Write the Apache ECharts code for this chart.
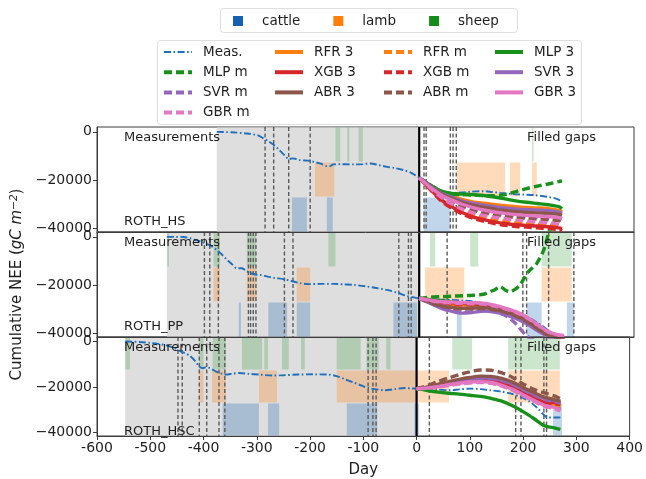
<!DOCTYPE html>
<html>
<head>
<meta charset="utf-8">
<script src="https://cdn.jsdelivr.net/npm/echarts@6/dist/echarts.min.js"></script>
<style>
html,body{margin:0;padding:0;background:#fff}
#chart{width:646px;height:479px}
</style>
</head>
<body>
<div id="chart"></div>
<script>
// ---------- axes ----------
const dayMin = -600, dayMax = 400, dayStep = 100;
const yMin = -41500, yMax = 2000;
const yTicks = [-40000, -20000, 0];

// grazing band limits on the NEE axis
const sheepBand = [-12500, yMax];
const lambBand = [-27000, -12500];
const cattleBand = [yMin, -27000];

// ---------- ROTH_HS ----------
const hsMeasDays = [-377,-350,-320,-300,-290,-280,-270,-262,-255,-248,-243,-236,-228,-222,-212,-203,-194,-184,-172,-166,-160,-145,-123,-105,-91,-75,-60,-45,-30,-15,0,10,20,33,45,64,80,95,120,135,151,176,195,213,238,252,263];
const hsMeas = [0,-200,-700,-1500,-2700,-4000,-5600,-7200,-8800,-10300,-11300,-11000,-11300,-11700,-11900,-12000,-12600,-13100,-14200,-14200,-13500,-13400,-13500,-13400,-13100,-13800,-14500,-15000,-15800,-17000,-19000,-20400,-21600,-23400,-24500,-25300,-25100,-24800,-24600,-24900,-25300,-25800,-26000,-26200,-26900,-27500,-28500];
const hsModelDays = [0,20,40,60,80,100,120,140,160,180,200,220,240,260,266];
const hsRFR3 = [-19000,-22300,-25000,-26600,-28000,-29000,-29600,-30100,-30600,-31000,-31300,-31500,-31800,-32600,-33200];
const hsRFRm = [-19000,-23400,-27400,-30300,-32600,-34300,-35500,-36300,-37000,-37600,-38000,-38300,-38600,-39200,-39600];
const hsMLP3 = [-19000,-22000,-24500,-25500,-25800,-26000,-26400,-27000,-27800,-28600,-29200,-29700,-30200,-31000,-31800];
const hsMLPm = [-19000,-22000,-24500,-25800,-26000,-26200,-26400,-26500,-26000,-24800,-23500,-22500,-21600,-20600,-20300];
const hsXGB3 = [-19000,-23600,-28000,-31000,-33400,-35200,-36400,-37300,-38000,-38500,-38800,-39000,-39300,-39800,-40100];
const hsXGBm = [-19000,-23800,-28400,-31600,-34000,-35800,-37000,-38000,-38700,-39200,-39500,-39800,-40100,-40600,-41000];
const hsSVR3 = [-19000,-22300,-25200,-27000,-28600,-29600,-30400,-31000,-31500,-31900,-32200,-32400,-32600,-33300,-33800];
const hsSVRm = [-19000,-22800,-26200,-28600,-30500,-32000,-33000,-33800,-34500,-35000,-35400,-35600,-35900,-36300,-36600];
const hsABR3 = [-19000,-22500,-25500,-27500,-29200,-30400,-31200,-32000,-32600,-33100,-33400,-33600,-33800,-34200,-34600];
const hsABRm = [-19000,-23000,-26500,-29000,-31000,-32600,-33600,-34400,-35000,-35500,-35900,-36200,-36400,-36800,-37200];
const hsGBR3 = [-19000,-22800,-26000,-28200,-30000,-31400,-32400,-33200,-33800,-34300,-34600,-34900,-35100,-35600,-36000];
const hsGBRm = [-19000,-23200,-27000,-29800,-32000,-33600,-34600,-35400,-36000,-36600,-37000,-37300,-37700,-38300,-38800];
const hsCattle = [[-237,-209],[-172,-161],[8,58]];
const hsLamb = [[-194,-158],[70,160],[169,188],[210,219]];
const hsSheep = [[-156,-147],[-134,-130],[-113,-105],[210,213]];
const hsEvents = [-287,-271,-243,-203,9,13,58,63,69];

// ---------- ROTH_PP ----------
const ppMeasDays = [-470,-455,-439,-425,-408,-398,-390,-377,-368,-358,-348,-340,-330,-321,-312,-302,-293,-284,-270,-253,-238,-222,-205,-184,-160,-140,-122,-100,-80,-60,-40,-23,-10,0,20,40,63,80,100,126,150,176,195,213,230,244,258,268];
const ppMeas = [0,0,-100,-700,-1900,-2700,-3500,-5400,-7200,-9500,-11500,-13000,-13000,-14300,-15200,-15700,-15900,-16400,-17000,-17500,-18300,-19200,-19600,-19500,-19500,-19700,-19900,-20500,-21200,-22000,-23200,-24500,-25100,-25500,-25800,-26000,-26100,-26400,-26800,-27800,-28900,-30800,-32400,-34600,-37000,-39300,-40600,-41300];
const ppModelDays = [0,20,40,60,80,100,120,140,160,180,200,220,240,260,270];
const ppMLPmDays = [0,20,40,60,80,100,120,132,140,151,160,169,180,188,201,210,219,232,241,250];
const ppMLPm = [-25500,-25000,-24800,-24600,-24400,-24200,-23800,-22700,-22000,-20700,-22000,-22700,-21500,-19900,-15100,-13000,-11000,-5400,1500,6000];
const ppRFR3 = [-25500,-26600,-27600,-28000,-28200,-28300,-28600,-29500,-30600,-32000,-34200,-37200,-40000,-41600,-42300];
const ppRFRm = [-25500,-26800,-27900,-28400,-28600,-28700,-29000,-29900,-31000,-32400,-34600,-37600,-40400,-42000,-42800];
const ppMLP3 = [-25500,-26000,-26500,-27000,-27500,-27800,-28300,-29200,-30300,-31800,-34000,-37000,-39800,-41500,-42500];
const ppXGB3 = [-25500,-26300,-27000,-27300,-27500,-27600,-27900,-28800,-30000,-31500,-33800,-36800,-39600,-41200,-42000];
const ppXGBm = [-25500,-26500,-27400,-27800,-28000,-28100,-28400,-29300,-30400,-31900,-34100,-37100,-39900,-41400,-42200];
const ppSVR3 = [-25500,-27500,-29500,-30800,-31600,-31300,-30800,-31200,-32200,-33800,-36000,-38800,-41500,-43000,-44000];
const ppSVRm = [-25500,-27300,-29200,-30500,-31300,-31000,-30600,-31000,-32500,-36000,-41000,-43500,-45000,-45500,-46000];
const ppABR3 = [-25500,-27000,-28500,-29200,-29600,-29500,-29400,-30000,-31000,-32600,-34800,-37800,-40600,-42000,-43000];
const ppABRm = [-25500,-27200,-28800,-29500,-29900,-29800,-29700,-30300,-31300,-32900,-35100,-38100,-40800,-42200,-43200];
const ppGBR3 = [-25500,-26200,-26800,-27000,-27200,-27300,-27500,-28300,-29500,-31000,-33200,-36200,-39200,-40800,-41500];
const ppGBRm = [-25500,-26400,-27100,-27400,-27600,-27700,-27900,-28700,-29800,-31300,-33500,-36500,-39400,-40600,-40900];
const ppCattle = [[-336,-332],[-281,-246],[-228,-203],[-48,-4],[70,79],[200,228],[275,288]];
const ppLamb = [[-383,-371],[-321,-303],[-228,-203],[11,84],[228,284]];
const ppSheep = [[-469,-466],[-383,-371],[-321,-304],[-169,-156],[20,30],[95,110],[228,284]];
const ppEvents = [-400,-390,-374,-318,-314,-309,-304,-251,-235,-38,-20,-15,52,193,200,241,288];

// ---------- ROTH_HSC ----------
const hscMeasDays = [-547,-520,-501,-485,-470,-455,-445,-435,-426,-416,-408,-401,-395,-389,-383,-377,-371,-364,-358,-345,-333,-315,-296,-271,-250,-222,-195,-166,-150,-135,-120,-105,-91,-75,-60,-40,-23,-10,0,20,40,64,80,101,120,138,160,176,195,213,228,238,245,262,270];
const hscMeas = [0,-200,-600,-1000,-1700,-2800,-4100,-5100,-6200,-8500,-11000,-11700,-11300,-11600,-12300,-13100,-13800,-14200,-14500,-14100,-13800,-14200,-14500,-14900,-14800,-14500,-14400,-14500,-15200,-16500,-17800,-19200,-20400,-21000,-21400,-20900,-20400,-20600,-20700,-21000,-21100,-21400,-21000,-20700,-20900,-21400,-22000,-22800,-24300,-26500,-29500,-32000,-33300,-33400,-33300];
const hscModelDays = [0,20,40,60,80,100,120,140,160,180,200,220,240,260,270];
const hscRFR3 = [-20700,-20300,-19600,-18800,-18100,-17600,-17300,-17600,-18800,-20600,-22800,-25000,-27200,-27800,-28200];
const hscRFRm = [-20700,-20400,-19800,-19000,-18300,-17800,-17500,-17800,-19000,-20800,-23100,-25300,-27500,-28200,-28700];
const hscMLP3 = [-20700,-21500,-22200,-22700,-23100,-23600,-24100,-25000,-26200,-28200,-30800,-33800,-37000,-38000,-38600];
const hscMLPm = [-20700,-20400,-19700,-19000,-18400,-17900,-17700,-18100,-19300,-21100,-23500,-25900,-28100,-29100,-29800];
const hscXGB3 = [-20700,-20200,-19300,-18400,-17600,-17000,-16700,-17000,-18200,-20000,-22200,-24400,-26600,-26800,-27200];
const hscXGBm = [-20700,-20300,-19500,-18600,-17900,-17300,-17000,-17300,-18500,-20300,-22500,-24700,-27000,-27300,-27600];
const hscSVR3 = [-20700,-20200,-19300,-18200,-17200,-16400,-15900,-16000,-16900,-18500,-20900,-23100,-25000,-26000,-26600];
const hscSVRm = [-20700,-20300,-19500,-18500,-17500,-16700,-16200,-16300,-17200,-18800,-21200,-23400,-25400,-26400,-27000];
const hscABR3 = [-20700,-20000,-18800,-17600,-16600,-15800,-15200,-15300,-16200,-17800,-20200,-22400,-24400,-25600,-26200];
const hscABRm = [-20700,-19400,-17600,-16000,-14500,-13300,-12500,-12600,-13800,-15800,-18600,-21000,-22600,-24000,-25200];
const hscGBR3 = [-20700,-20400,-19800,-19000,-18300,-17800,-17600,-18000,-19200,-21000,-23400,-25800,-28000,-29000,-30000];
const hscGBRm = [-20700,-20500,-20000,-19300,-18700,-18200,-18000,-18400,-19600,-21400,-23800,-26200,-28500,-29600,-30500];
const hscCattle = [[-364,-296],[-279,-258],[-131,-74],[-4,5],[256,273]];
const hscLamb = [[-408,-400],[-384,-358],[-296,-262],[-150,61],[172,269]];
const hscSheep = [[-547,-538],[-408,-400],[-383,-358],[-328,-290],[-286,-279],[-253,-240],[-217,-210],[-150,-105],[-94,-71],[-57,-49],[67,104],[172,269]];
const hscEvents = [-448,-440,-408,-394,-371,-360,-91,-82,-76,24,186,196,239,244];

// ---------- legend entries ----------
const grazingNames = ['cattle', 'lamb', 'sheep'];
const legendColumns = [
  ['Meas.', 'MLP m', 'SVR m', 'GBR m'],
  ['RFR 3', 'XGB 3', 'ABR 3'],
  ['RFR m', 'XGB m', 'ABR m'],
  ['MLP 3', 'SVR 3', 'GBR 3']
];
const modelOrder = ['RFR 3','RFR m','MLP 3','MLP m','XGB 3','XGB m','SVR 3','SVR m','ABR 3','ABR m','GBR 3','GBR m'];

// ---------- panels ----------
const panels = [
  { site: 'ROTH_HS', measDays: hsMeasDays, meas: hsMeas, modelDays: hsModelDays,
    models: {'RFR 3': hsRFR3, 'RFR m': hsRFRm, 'MLP 3': hsMLP3, 'MLP m': hsMLPm, 'XGB 3': hsXGB3, 'XGB m': hsXGBm,
             'SVR 3': hsSVR3, 'SVR m': hsSVRm, 'ABR 3': hsABR3, 'ABR m': hsABRm, 'GBR 3': hsGBR3, 'GBR m': hsGBRm},
    dayOverride: {}, cattle: hsCattle, lamb: hsLamb, sheep: hsSheep, events: hsEvents },
  { site: 'ROTH_PP', measDays: ppMeasDays, meas: ppMeas, modelDays: ppModelDays,
    models: {'RFR 3': ppRFR3, 'RFR m': ppRFRm, 'MLP 3': ppMLP3, 'MLP m': ppMLPm, 'XGB 3': ppXGB3, 'XGB m': ppXGBm,
             'SVR 3': ppSVR3, 'SVR m': ppSVRm, 'ABR 3': ppABR3, 'ABR m': ppABRm, 'GBR 3': ppGBR3, 'GBR m': ppGBRm},
    dayOverride: {'MLP m': ppMLPmDays}, cattle: ppCattle, lamb: ppLamb, sheep: ppSheep, events: ppEvents },
  { site: 'ROTH_HSC', measDays: hscMeasDays, meas: hscMeas, modelDays: hscModelDays,
    models: {'RFR 3': hscRFR3, 'RFR m': hscRFRm, 'MLP 3': hscMLP3, 'MLP m': hscMLPm, 'XGB 3': hscXGB3, 'XGB m': hscXGBm,
             'SVR 3': hscSVR3, 'SVR m': hscSVRm, 'ABR 3': hscABR3, 'ABR m': hscABRm, 'GBR 3': hscGBR3, 'GBR m': hscGBRm},
    dayOverride: {}, cattle: hscCattle, lamb: hscLamb, sheep: hscSheep, events: hscEvents }
];

// ---------- styling ----------
const FONT = 'DejaVu Sans';
const TXT = '#1e1e1e';
const FRAME = '#3c3c3c';
const familyColor = { RFR: '#ff7f0e', MLP: '#17911a', XGB: '#d62728', SVR: '#9467bd', ABR: '#8c564b', GBR: '#e377c2' };
const measColor = '#1f6fbf';
const grazingColor = { cattle: '#1560b0', lamb: '#ff7f0e', sheep: '#148c1c' };
const grazingOpacity = { cattle: 0.26, lamb: 0.28, sheep: 0.22 };
const gridLeft = 97, gridRight = 12, gridTop0 = 127, gridH = 105;

const minusFmt = v => (v < 0 ? '\u2212' + Math.abs(v) : String(v));

const chart = echarts.init(document.getElementById('chart'), null, { renderer: 'canvas' });

const grids = [], xAxes = [], yAxes = [], series = [], graphics = [];

panels.forEach((p, i) => {
  const top = gridTop0 + i * gridH;
  const last = i === panels.length - 1;
  grids.push({ left: gridLeft, right: gridRight, top: top, height: gridH, show: true,
               borderColor: FRAME, borderWidth: 1, backgroundColor: '#fff' });
  xAxes.push({
    gridIndex: i, type: 'value', min: dayMin, max: dayMax, interval: dayStep, position: 'bottom', z: 10,
    axisLine: { show: true, onZero: false, lineStyle: { color: FRAME, width: 1 } },
    axisTick: { show: last, length: 4, lineStyle: { color: FRAME } },
    axisLabel: { show: last, fontFamily: FONT, fontSize: 14, color: TXT, margin: 5 },
    splitLine: { show: false },
    name: last ? 'Day' : '', nameLocation: 'middle', nameGap: 27,
    nameTextStyle: { fontFamily: FONT, fontSize: 15, color: TXT }
  });
  yAxes.push({
    gridIndex: i, type: 'value', min: yMin, max: yMax, position: 'left', z: 10,
    axisLine: { show: true, onZero: false, lineStyle: { color: FRAME, width: 1 } },
    axisTick: { show: true, length: 4, customValues: yTicks, lineStyle: { color: FRAME } },
    axisLabel: { fontFamily: FONT, fontSize: 14, color: TXT, margin: 5, customValues: yTicks, formatter: minusFmt },
    splitLine: { show: false },
    name: i === 1 ? '{a|Cumulative NEE (}{i|gC m}{s|\u22122}{a|)}' : '',
    nameLocation: 'middle', nameRotate: 90, nameGap: 61,
    nameTextStyle: { fontFamily: FONT, fontSize: 15, color: TXT,
      rich: { a: { fontFamily: FONT, fontSize: 15, color: TXT },
              i: { fontFamily: FONT, fontSize: 15, fontStyle: 'italic', color: TXT },
              s: { fontFamily: FONT, fontSize: 10.5, fontStyle: 'italic', color: TXT, verticalAlign: 'top', padding: [0, 0, 7, 0] } } }
  });

  // shaded span of measured data
  series.push({
    type: 'custom', name: 'measured span', xAxisIndex: i, yAxisIndex: i, z: 1, silent: true,
    data: [[p.measDays[0], 0, yMin, yMax]], encode: { x: [0, 1], y: [2, 3] },
    renderItem: (params, api) => {
      const a = api.coord([api.value(0), api.value(3)]);
      const b = api.coord([api.value(1), api.value(2)]);
      return { type: 'rect', shape: { x: a[0], y: a[1] + 0.5, width: b[0] - a[0], height: b[1] - a[1] - 1 },
               style: { fill: '#dedede' } };
    }
  });

  // grazing periods
  const bands = { sheep: sheepBand, lamb: lambBand, cattle: cattleBand };
  grazingNames.forEach(g => {
    const [lo, hi] = bands[g];
    series.push({
      type: 'custom', name: g, xAxisIndex: i, yAxisIndex: i, z: 2, silent: true,
      itemStyle: { color: grazingColor[g] },
      data: p[g].map(([s, e]) => [s, e, lo, hi]), encode: { x: [0, 1], y: [2, 3] },
      renderItem: (params, api) => {
        const a = api.coord([api.value(0), api.value(3)]);
        const b = api.coord([api.value(1), api.value(2)]);
        return { type: 'rect', shape: { x: a[0], y: a[1] + 0.5, width: Math.max(b[0] - a[0], 1.5), height: b[1] - a[1] - 1 },
                 style: { fill: grazingColor[g], opacity: grazingOpacity[g] } };
      }
    });
  });

  // management events
  series.push({
    type: 'custom', name: 'events', xAxisIndex: i, yAxisIndex: i, z: 3, silent: true,
    data: p.events.map(d => [d, yMin, yMax]), encode: { x: 0, y: [1, 2] },
    renderItem: (params, api) => {
      const a = api.coord([api.value(0), api.value(2)]);
      const b = api.coord([api.value(0), api.value(1)]);
      return { type: 'line', shape: { x1: a[0], y1: a[1], x2: b[0], y2: b[1] },
               style: { stroke: '#5a5a5a', lineWidth: 1.4, lineDash: [4, 2.5] } };
    }
  });

  // start of gap filling
  series.push({
    type: 'custom', name: 'gap start', xAxisIndex: i, yAxisIndex: i, z: 4, silent: true,
    data: [[0, yMin, yMax]], encode: { x: 0, y: [1, 2] },
    renderItem: (params, api) => {
      const a = api.coord([api.value(0), api.value(2)]);
      const b = api.coord([api.value(0), api.value(1)]);
      return { type: 'line', shape: { x1: a[0], y1: a[1], x2: b[0], y2: b[1] },
               style: { stroke: '#000', lineWidth: 2.2 } };
    }
  });

  // measured cumulative NEE
  series.push({
    type: 'line', name: 'Meas.', xAxisIndex: i, yAxisIndex: i, z: 5,
    data: p.measDays.map((d, k) => [d, p.meas[k]]),
    symbol: 'none', showSymbol: false, smooth: 0.3, silent: true,
    itemStyle: { color: measColor },
    lineStyle: { color: measColor, width: 1.9, type: [7, 2.5, 1.6, 2.5] }
  });

  // gap-filling models
  modelOrder.forEach(name => {
    const fam = name.slice(0, 3);
    const dashed = name.endsWith('m');
    const days = p.dayOverride[name] || p.modelDays;
    const vals = p.models[name];
    series.push({
      type: 'line', name: name, xAxisIndex: i, yAxisIndex: i, z: 5,
      data: days.map((d, k) => [d, vals[k]]),
      symbol: 'none', showSymbol: false, smooth: 0.3, silent: true,
      itemStyle: { color: familyColor[fam] },
      lineStyle: { color: familyColor[fam], width: 3.4, type: dashed ? [8, 4] : 'solid', cap: 'butt' }
    });
  });

  // panel annotations
  const tStyle = { fontFamily: FONT, fontSize: 13, fill: TXT, textVerticalAlign: 'middle', verticalAlign: 'middle' };
  graphics.push({ type: 'text', x: 124, y: top + 11, z: 100, style: Object.assign({ text: 'Measurements' }, tStyle) });
  graphics.push({ type: 'text', x: 527, y: top + 11, z: 100, style: Object.assign({ text: 'Filled gaps' }, tStyle) });
  graphics.push({ type: 'text', x: 124, y: top + 95, z: 100, style: Object.assign({ text: p.site }, tStyle) });
});

// legend frames
graphics.push({ type: 'rect', z: 0, shape: { x: 220.5, y: 8.5, width: 297, height: 24, r: 3 },
                style: { fill: '#fff', stroke: '#dedede', lineWidth: 1 } });
graphics.push({ type: 'rect', z: 0, shape: { x: 157.5, y: 40.5, width: 424, height: 84, r: 3 },
                style: { fill: '#fff', stroke: '#dedede', lineWidth: 1 } });

const legendText = { fontFamily: FONT, fontSize: 13.5, color: TXT };
const legends = [{
  data: grazingNames.map(n => ({ name: n, icon: 'rect' })),
  left: 233, top: 14, padding: 0, itemWidth: 10, itemHeight: 10, itemGap: 33,
  selectedMode: false, textStyle: Object.assign({ padding: [0, 0, 0, 14] }, legendText)
}];
const colLeft = [162, 273, 382, 493];
legendColumns.forEach((col, c) => {
  legends.push({
    orient: 'vertical', left: colLeft[c], top: 45, padding: 0,
    itemWidth: 28, itemHeight: 14, itemGap: 6.2, selectedMode: false,
    itemStyle: { opacity: 0 },
    lineStyle: { width: 4 },
    data: col.map(n => n === 'Meas.' ? { name: n, lineStyle: { width: 2 } } : { name: n }),
    textStyle: Object.assign({ padding: [0, 0, 0, 6] }, legendText)
  });
});

chart.setOption({
  animation: false,
  backgroundColor: '#fff',
  grid: grids,
  xAxis: xAxes,
  yAxis: yAxes,
  legend: legends,
  graphic: graphics,
  series: series
});
</script>
</body>
</html>
